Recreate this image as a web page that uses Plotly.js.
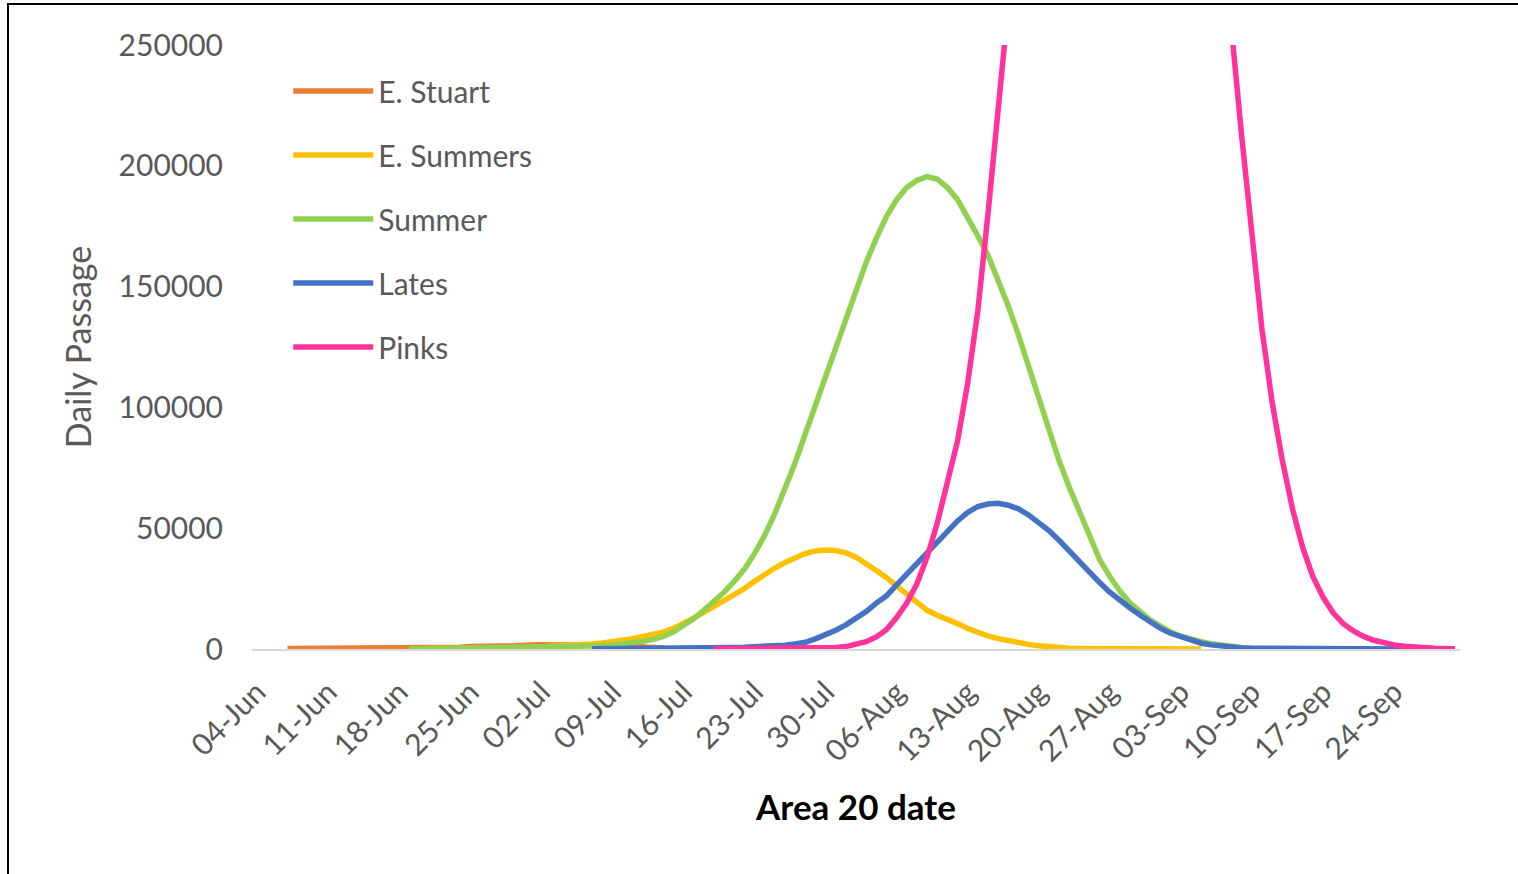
<!DOCTYPE html>
<html>
<head>
<meta charset="utf-8">
<script src="https://cdn.plot.ly/plotly-3.0.1.min.js"></script>
<style>
html,body{margin:0;padding:0;background:#fff;}
#chart{position:absolute;left:0;top:0;width:1518px;height:874px;}
#frame{position:absolute;left:7px;top:3px;width:1511px;height:871px;border-top:2px solid #000;border-left:2px solid #000;box-sizing:border-box;pointer-events:none;}
</style>
</head>
<body>
<div id="chart"></div>
<div id="frame"></div>
<script>
// ---- data (daily passage) ----
const seriesNames = ['E. Stuart', 'E. Summers', 'Summer', 'Lates', 'Pinks'];
const seriesColors = ['#ED7D31', '#FFC000', '#92D050', '#4472C4', '#FF3399'];
const seriesStart = ['2019-06-07', '2019-06-19', '2019-06-19', '2019-07-07', '2019-07-19'];

const eStuart = [200,200,250,250,300,300,300,300,350,350,350,400,400,400,450,450,500,
  700,1000,1200,1200,1200,1200,1700,1700,1800,1800,1800,1900,1900,1800,1700,1500,1300,1000,800,600,400];

const eSummers = [100,100,150,150,200,250,300,350,400,450,500,600,700,850,
  1000,1200,1500,1800,2100,2500,3000,3600,4300,5200,6000,7000,8500,10500,12800,15200,17600,20000,22500,25000,
  28000,31000,33500,35800,37800,39500,40600,41000,40800,39800,38000,35500,32500,29500,26000,22500,19000,16000,
  14000,12500,10500,8500,6800,5400,4300,3400,2600,1900,1300,800,500,300,
  250,200,200,150,150,100,100,100,100,50,50,50,50];

const summer = [100,150,150,200,200,250,250,300,300,350,350,400,400,450,500,550,
  650,800,1000,1300,1700,2100,2600,3200,4000,5200,7000,9500,12500,16000,19500,23500,28000,33000,39500,47000,
  56000,66000,77000,89000,101000,113000,125000,137000,149000,160000,170000,179000,186000,191000,194000,195500,
  194500,191000,186000,179000,171000,163000,153000,142000,130000,117000,104000,91000,78000,67000,57000,46000,
  37000,30000,24000,19000,15500,12000,9500,7000,5300,4000,3000,2200,1500,1000,600,300];

const lates = [100,100,100,150,150,200,200,250,250,300,350,400,450,500,600,700,
  850,1000,1300,1600,2100,2800,4200,5800,7800,10000,12500,15500,19000,22000,26500,31000,35500,40000,44500,49000,
  53000,56500,59000,60000,60300,59500,58000,55500,52500,49000,45000,40500,36000,31500,27500,23500,20000,17000,
  14000,11000,8500,6500,5000,3300,2400,1700,1100,700,450,
  300,250,200,200,150,150,100,100,100,100,50,50,50,50,50,50];

const pinks = [100,100,100,100,100,150,150,200,200,250,300,
  400,600,1000,1800,3000,5000,8000,13000,19000,27000,38000,52000,68000,86000,110000,140000,180000,225000,
  275000,330000,390000,450000,510000,560000,600000,630000,650000,655000,650000,630000,600000,565000,525000,
  485000,445000,405000,370000,335000,305000,280000,256000,212000,170000,132000,102000,78000,58000,42000,
  30000,21500,15000,10500,7500,5200,3600,2500,1700,1100,700,450,300,200,150];

const seriesValues = [eStuart, eSummers, summer, lates, pinks];

const tickDates = ['2019-06-04','2019-06-11','2019-06-18','2019-06-25','2019-07-02','2019-07-09','2019-07-16',
  '2019-07-23','2019-07-30','2019-08-06','2019-08-13','2019-08-20','2019-08-27','2019-09-03','2019-09-10',
  '2019-09-17','2019-09-24'];
const tickLabels = ['04-Jun','11-Jun','18-Jun','25-Jun','02-Jul','09-Jul','16-Jul','23-Jul','30-Jul',
  '06-Aug','13-Aug','20-Aug','27-Aug','03-Sep','10-Sep','17-Sep','24-Sep'];
const yTicks = [0, 50000, 100000, 150000, 200000, 250000];
const yTickLabels = ['0', '50000', '100000', '150000', '200000', '250000'];

// ---- build traces ----
function dayList(start, n) {
  const out = [];
  const t0 = Date.parse(start + 'T00:00:00Z');
  for (let i = 0; i < n; i++) {
    out.push(new Date(t0 + i * 86400000).toISOString().slice(0, 10));
  }
  return out;
}

const traces = seriesNames.map((name, i) => ({
  type: 'scatter',
  mode: 'lines',
  name: name,
  legendgroup: 'g' + i,
  x: dayList(seriesStart[i], seriesValues[i].length),
  y: seriesValues[i],
  line: { color: seriesColors[i], width: 5.5, shape: 'linear' },
  hoverinfo: 'x+y+name'
}));

const FONT = 'Lato, "Open Sans", sans-serif';
const layout = {
  width: 1518,
  height: 874,
  margin: { l: 252, r: 58, t: 45, b: 225 },
  paper_bgcolor: '#ffffff',
  plot_bgcolor: '#ffffff',
  font: { family: FONT, color: '#595959', size: 30 },
  showlegend: true,
  legend: {
    x: 0.03, y: 0.967, xanchor: 'left', yanchor: 'top',
    bgcolor: 'rgba(0,0,0,0)',
    font: { family: FONT, size: 30, color: '#595959' },
    itemwidth: 80,
    tracegroupgap: 22,
    traceorder: 'grouped'
  },
  xaxis: {
    type: 'date',
    range: ['2019-06-03 12:00', '2019-09-30 12:00'],
    tickmode: 'array',
    tickvals: tickDates,
    ticktext: tickLabels,
    tickangle: -45,
    tickfont: { family: FONT, size: 30, color: '#595959' },
    ticks: '',
    ticklabelstandoff: 12,
    showgrid: false,
    zeroline: false,
    showline: true,
    linecolor: '#d9d9d9',
    linewidth: 1.5,
    title: { text: '<b>Area 20 date</b>', font: { family: FONT, size: 35, color: '#000000' }, standoff: 28 }
  },
  yaxis: {
    range: [0, 250000],
    tickmode: 'array',
    tickvals: yTicks,
    ticktext: yTickLabels,
    tickfont: { family: FONT, size: 30, color: '#595959' },
    ticks: '',
    ticklabelstandoff: 28,
    showgrid: false,
    zeroline: false,
    showline: false,
    title: { text: 'Daily Passage', font: { family: FONT, size: 34, color: '#595959' }, standoff: 16 }
  }
};

Plotly.newPlot('chart', traces, layout, { displayModeBar: false, staticPlot: true });
</script>
</body>
</html>
